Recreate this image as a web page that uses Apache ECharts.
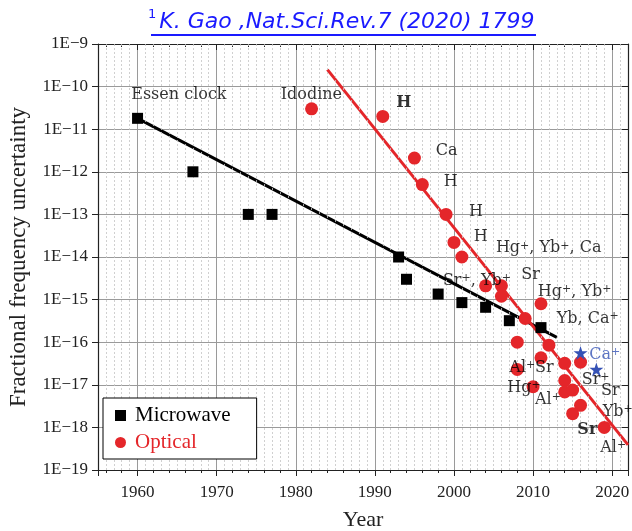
<!DOCTYPE html>
<html>
<head>
<meta charset="utf-8">
<script src="https://cdn.jsdelivr.net/npm/echarts@6/dist/echarts.min.js"></script>
<style>
  html, body { margin: 0; padding: 0; background: #fff; }
  #chart { width: 632px; height: 531px; }
</style>
</head>
<body>
<div id="chart"></div>
<script>
// Microwave clocks (black squares)
const microwaveYears  = [1960, 1967, 1974, 1977, 1993, 1994, 1998, 2001, 2004, 2007, 2011];
const microwaveValues = [1.8e-11, 1e-12, 1e-13, 1e-13, 1e-14, 3e-15, 1.35e-15, 8.5e-16, 6.6e-16, 3.2e-16, 2.2e-16];

// Optical clocks (red circles)
const opticalYears  = [1982, 1991, 1995, 1996, 1999, 2000, 2001, 2004, 2006, 2006, 2011, 2009, 2008,
                       2012, 2011, 2014, 2016, 2008, 2010, 2014, 2014, 2015, 2016, 2015, 2019];
const opticalValues = [3e-11, 2e-11, 2.1e-12, 5e-13, 1e-13, 2.2e-14, 1e-14, 2.1e-15, 2.1e-15, 1.2e-15, 8e-16, 3.6e-16, 1e-16,
                       8.5e-17, 4.3e-17, 3.2e-17, 3.4e-17, 2.3e-17, 9e-18, 1.26e-17, 6.8e-18, 7.5e-18, 3.3e-18, 2.1e-18, 1e-18];

// Ion results (blue stars)
const ionStarYears  = [2016, 2018];
const ionStarValues = [5.6e-17, 2.3e-17];

// Trend lines: [year, uncertainty] end points
const microwaveTrend = [[1960, 1.8e-11], [2013, 1.3e-16]];
const opticalTrend   = [[1984, 2.5e-10], [2022, 3.9e-19]];

// Text annotations: [year, uncertainty, text]
const annotations = [
  [1959.2, 6.3e-11, 'Essen clock'],
  [1978.1, 6.3e-11, 'Idodine'],
  [1992.7, 4.1e-11, '{b|H}'],
  [1997.7, 3.1e-12, 'Ca'],
  [1998.7, 5.8e-13, 'H'],
  [2001.9, 1.15e-13, 'H'],
  [2002.5, 3.0e-14, 'H'],
  [2005.3, 1.6e-14, 'Hg{s|+}, Yb{s|+}, Ca'],
  [1998.6, 2.8e-15, 'Sr{s|+}, Yb{s|+}'],
  [2008.5, 3.8e-15, 'Sr'],
  [2010.6, 1.5e-15, 'Hg{s|+}, Yb{s|+}'],
  [2013.0, 3.6e-16, 'Yb, Ca{s|+}'],
  [2007.0, 2.5e-17, 'Al{s|+}'],
  [2010.25, 2.5e-17, 'Sr'],
  [2006.75, 8.7e-18, 'Hg{s|+}'],
  [2010.25, 4.4e-18, 'Al{s|+}'],
  [2016.15, 1.3e-17, 'Sr{s|+}'],
  [2018.6, 7.2e-18, 'Sr'],
  [2018.8, 2.3e-18, 'Yb{s|+}'],
  [2015.6, 8.7e-19, '{b|Sr}'],
  [2018.5, 3.4e-19, 'Al{s|+}']
];
const blueAnnotations = [
  [2017.1, 5.0e-17, 'Ca{s|+}']
];

// Axis tick labels
const yTickLabels = ['1E-19','1E-18','1E-17','1E-16','1E-15','1E-14','1E-13','1E-12','1E-11','1E-10','1E-9'];
const xRange = [1955, 2022];

const RED = '#e4262a';
const BLUE = '#3552b5';
const serif = '"Liberation Serif", "DejaVu Serif", serif';
const annoFont = '"DejaVu Serif", serif';
const ANNO_SIZE = 16;

// Minor grid: log sub-decades and single years
const minorGridLines = [];
for (let e = -19; e < -9; e++) {
  for (let k = 2; k <= 9; k++) minorGridLines.push({ yAxis: k * Math.pow(10, e) });
}
for (let yr = xRange[0] + 1; yr < xRange[1]; yr++) {
  if (yr % 10 !== 0) minorGridLines.push({ xAxis: yr });
}

function yLabel(v) {
  const e = Math.round(Math.log10(v));
  const idx = e + 19;
  return (yTickLabels[idx] || ('1E' + e)).replace('-', '\u2212');
}

const richSup = {
  s: { fontSize: 11, verticalAlign: 'top', fontFamily: annoFont, lineHeight: 12, color: '#000' },
  b: { fontSize: ANNO_SIZE, fontWeight: 'bold', fontFamily: annoFont, color: '#000' }
};

const chart = echarts.init(document.getElementById('chart'), null, { renderer: 'canvas' });

const axisCommon = {
  type: 'value',
  min: xRange[0],
  max: xRange[1],
  splitNumber: 7
};

chart.setOption({
  animation: false,
  backgroundColor: '#fff',
  title: {
    text: '{sup|1}{t|K. Gao ,Nat.Sci.Rev.7 (2020) 1799}',
    left: 143,
    top: 3,
    textStyle: {
      fontWeight: 'normal',
      rich: {
        sup: { fontSize: 13, color: '#1a1aff', fontWeight: 'normal', fontFamily: '"DejaVu Sans", sans-serif', verticalAlign: 'top', lineHeight: 28 },
        t: { fontSize: 22, color: '#1a1aff', fontWeight: 'normal', fontStyle: 'italic', fontFamily: '"DejaVu Sans", sans-serif', lineHeight: 28, padding: [0, 0, 0, 3] }
      }
    }
  },
  graphic: [{
    type: 'line',
    shape: { x1: 151, y1: 35, x2: 536, y2: 35 },
    style: { stroke: '#1a1aff', lineWidth: 2 }
  }],
  legend: {
    data: [
      { name: 'Microwave', icon: 'rect', textStyle: { color: '#000' } },
      { name: 'Optical', icon: 'circle', textStyle: { color: RED } }
    ],
    orient: 'vertical',
    left: 103,
    top: 398,
    itemWidth: 11,
    itemHeight: 11,
    itemGap: 6,
    padding: [7, 26, 6, 12],
    borderColor: '#000',
    borderWidth: 1,
    backgroundColor: '#fff',
    textStyle: { fontFamily: serif, fontSize: 21, padding: [0, 0, 0, 4] },
    z: 10
  },
  grid: {
    left: 98,
    right: 4,
    top: 44,
    bottom: 61,
    containLabel: false,
    outerBoundsMode: 'none'
  },
  xAxis: [
    Object.assign({}, axisCommon, {
      position: 'bottom',
      name: 'Year',
      nameLocation: 'middle',
      nameGap: 39,
      nameTextStyle: { fontFamily: serif, fontSize: 22, color: '#222' },
      axisLine: { show: true, lineStyle: { color: '#222', width: 1.2 } },
      axisTick: { show: true, length: 6, lineStyle: { color: '#222' } },
      minorTick: { show: true, splitNumber: 5, length: 3, lineStyle: { color: '#222' } },
      axisLabel: { fontFamily: serif, fontSize: 17, color: '#222', margin: 14, showMinLabel: false, showMaxLabel: false,
                   formatter: v => String(Math.round(v)) },
      splitLine: { show: true, lineStyle: { color: '#9a9a9a', width: 1 } }
    }),
    Object.assign({}, axisCommon, {
      position: 'top',
      axisLine: { show: true, lineStyle: { color: '#222', width: 1.2 } },
      axisTick: { show: true, inside: true, length: 6, lineStyle: { color: '#222' } },
      minorTick: { show: true, splitNumber: 5, length: 3, lineStyle: { color: '#222' } },
      axisLabel: { show: false },
      splitLine: { show: false }
    })
  ],
  yAxis: [
    {
      type: 'log',
      logBase: 10,
      min: 1e-19,
      max: 1e-9,
      interval: 1,
      position: 'left',
      name: 'Fractional frequency uncertainty',
      nameLocation: 'middle',
      nameGap: 68,
      nameTextStyle: { fontFamily: serif, fontSize: 23, color: '#222' },
      axisLine: { show: true, lineStyle: { color: '#222', width: 1.2 } },
      axisTick: { show: true, length: 6, lineStyle: { color: '#222' } },
      axisLabel: { fontFamily: serif, fontSize: 17, color: '#222', margin: 10, formatter: yLabel },
      splitLine: { show: true, lineStyle: { color: '#9a9a9a', width: 1 } }
    },
    {
      type: 'log',
      logBase: 10,
      min: 1e-19,
      max: 1e-9,
      interval: 1,
      position: 'right',
      axisLine: { show: true, lineStyle: { color: '#222', width: 1.2 } },
      axisTick: { show: true, inside: true, length: 6, lineStyle: { color: '#222' } },
      axisLabel: { show: false },
      splitLine: { show: false }
    }
  ],
  series: [
    {
      name: 'minor-grid',
      type: 'line',
      data: [],
      silent: true,
      z: 1,
      markLine: {
        silent: true,
        symbol: 'none',
        label: { show: false },
        animation: false,
        lineStyle: { color: '#c4c4c4', type: [2, 2], width: 0.8 },
        emphasis: { disabled: true },
        data: minorGridLines
      }
    },
    {
      name: 'microwave-trend',
      type: 'line',
      data: microwaveTrend,
      showSymbol: false,
      symbol: 'none',
      lineStyle: { color: '#000', width: 3 },
      z: 4
    },
    {
      name: 'optical-trend',
      type: 'line',
      data: opticalTrend,
      showSymbol: false,
      symbol: 'none',
      lineStyle: { color: RED, width: 3 },
      z: 4
    },
    {
      name: 'Microwave',
      type: 'scatter',
      symbol: 'rect',
      symbolSize: 11,
      itemStyle: { color: '#000', opacity: 1 },
      data: microwaveYears.map((y, i) => [y, microwaveValues[i]]),
      z: 5
    },
    {
      name: 'Optical',
      type: 'scatter',
      symbol: 'circle',
      symbolSize: 13,
      itemStyle: { color: RED, opacity: 1 },
      data: opticalYears.map((y, i) => [y, opticalValues[i]]),
      z: 5
    },
    {
      name: 'Ion',
      type: 'scatter',
      symbol: 'path://M50,0 L61.8,35.5 L99,35.5 L69,57.4 L80.4,93 L50,71 L19.6,93 L31,57.4 L1,35.5 L38.2,35.5 Z',
      symbolSize: 14,
      itemStyle: { color: BLUE, opacity: 1 },
      data: ionStarYears.map((y, i) => [y, ionStarValues[i]]),
      z: 5
    },
    {
      name: 'notes',
      type: 'scatter',
      symbolSize: 0,
      silent: true,
      z: 6,
      label: {
        show: true,
        position: 'right',
        distance: 0,
        fontFamily: annoFont,
        fontSize: ANNO_SIZE,
        color: '#000',
        formatter: p => p.data.text,
        rich: richSup
      },
      data: annotations.map(a => ({ value: [a[0], a[1]], text: a[2] }))
    },
    {
      name: 'notes-blue',
      type: 'scatter',
      symbolSize: 0,
      silent: true,
      z: 6,
      label: {
        show: true,
        position: 'right',
        distance: 0,
        fontFamily: annoFont,
        fontSize: ANNO_SIZE,
        color: BLUE,
        formatter: p => p.data.text,
        rich: { s: Object.assign({}, richSup.s, { color: BLUE }) }
      },
      data: blueAnnotations.map(a => ({ value: [a[0], a[1]], text: a[2] }))
    }
  ]
});
</script>
</body>
</html>
